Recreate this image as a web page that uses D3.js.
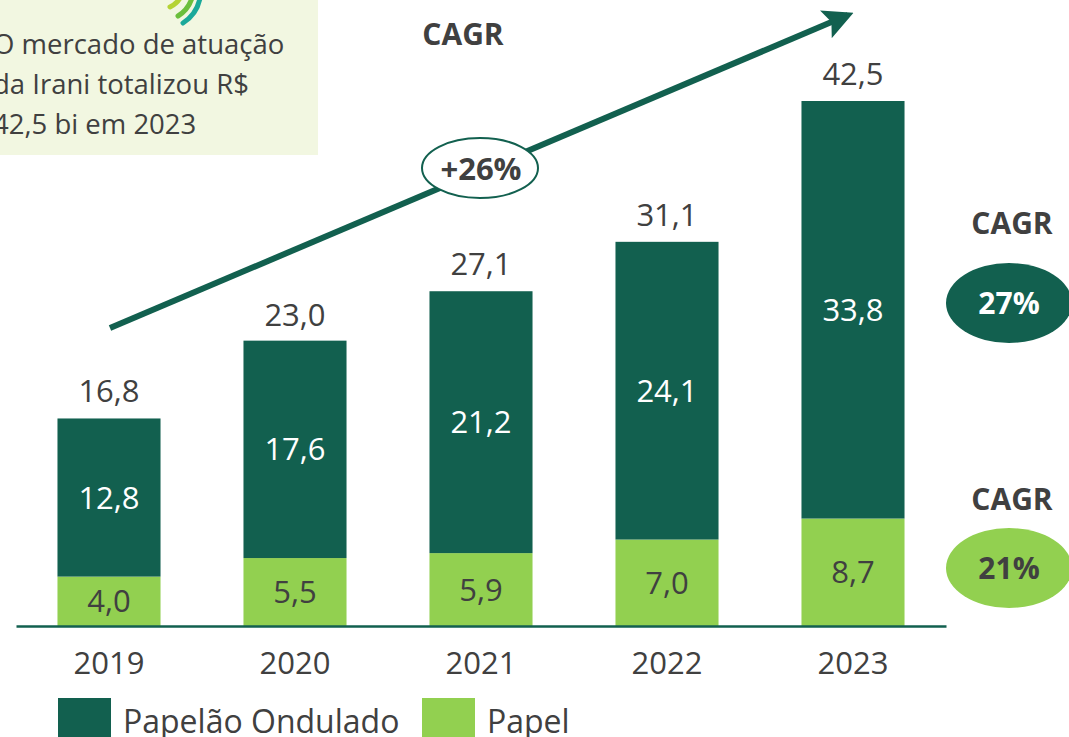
<!DOCTYPE html>
<html>
<head>
<meta charset="utf-8">
<script src="https://cdn.jsdelivr.net/npm/d3@7"></script>
<style>
  html, body { margin: 0; padding: 0; background: #fff; }
  svg { display: block; font-family: "Open Sans", "Noto Sans", sans-serif; }
</style>
</head>
<body>
<svg id="chart" width="1069" height="737"></svg>
<script>
// Data (R$ bi)
const years = ["2019", "2020", "2021", "2022", "2023"];
const papelao = [12.8, 17.6, 21.2, 24.1, 33.8];
const papel = [4.0, 5.5, 5.9, 7.0, 8.7];
const totals = [16.8, 23.0, 27.1, 31.1, 42.5];
const seriesNames = ["Papelão Ondulado", "Papel"];
const cagrTotal = "+26%";
const cagrPapelao = "27%";
const cagrPapel = "21%";
const noteLines = ["O mercado de atuação", "da Irani totalizou R$", "42,5 bi em 2023"];

const colors = {
  dark: "#12604f",
  light: "#92d050",
  text: "#404040",
  box: "#f2f7e1",
};

const fmt = (v) => v.toFixed(1).replace(".", ",");

const svg = d3.select("#chart");

const x = d3.scaleBand()
  .domain(years)
  .range([16, 946])
  .paddingInner(0.446)
  .paddingOuter(0.223);

const y = d3.scaleLinear()
  .domain([0, 42.5])
  .range([626, 101]);

// Note box in the top left corner
svg.append("rect")
  .attr("x", 0).attr("y", 0)
  .attr("width", 318).attr("height", 155)
  .attr("fill", colors.box);

// small logo strokes peeking in at the top
const logo = svg.append("g").attr("fill", "none").attr("stroke-linecap", "round").attr("stroke-width", 5);
logo.append("path").attr("d", "M170,7 Q178,3 181,-4").attr("stroke", "#b5d334");
logo.append("path").attr("d", "M178,16 Q188,10 192,-2").attr("stroke", "#6bbf3c");
logo.append("path").attr("d", "M183,23 Q197,14 200,-2").attr("stroke", "#1aa99a");

svg.append("g")
  .selectAll("text")
  .data(noteLines)
  .join("text")
  .attr("x", -7)
  .attr("y", (d, i) => 54 + i * 40)
  .attr("fill", colors.text)
  .attr("font-size", 27.5)
  .text((d) => d);

// Stacked bars
const stacked = years.map((yr, i) => ({ year: yr, papel: papel[i], papelao: papelao[i], total: totals[i] }));

const bars = svg.append("g");

bars.selectAll("rect.papel")
  .data(stacked)
  .join("rect")
  .attr("class", "papel")
  .attr("x", (d) => x(d.year))
  .attr("width", x.bandwidth())
  .attr("y", (d) => y(d.papel))
  .attr("height", (d) => y(0) - y(d.papel))
  .attr("fill", colors.light);

bars.selectAll("rect.papelao")
  .data(stacked)
  .join("rect")
  .attr("class", "papelao")
  .attr("x", (d) => x(d.year))
  .attr("width", x.bandwidth())
  .attr("y", (d) => y(d.papel + d.papelao))
  .attr("height", (d) => y(d.papel) - y(d.papel + d.papelao))
  .attr("fill", colors.dark);

// Value labels
const labels = svg.append("g").attr("text-anchor", "middle").attr("font-size", 31);

labels.selectAll("text.papel")
  .data(stacked)
  .join("text")
  .attr("class", "papel")
  .attr("x", (d) => x(d.year) + x.bandwidth() / 2)
  .attr("y", (d) => (y(0) + y(d.papel)) / 2 + 11)
  .attr("fill", colors.text)
  .text((d) => fmt(d.papel));

labels.selectAll("text.papelao")
  .data(stacked)
  .join("text")
  .attr("class", "papelao")
  .attr("x", (d) => x(d.year) + x.bandwidth() / 2)
  .attr("y", (d) => (y(d.papel) + y(d.papel + d.papelao)) / 2 + 11)
  .attr("fill", "#fff")
  .text((d) => fmt(d.papelao));

labels.selectAll("text.total")
  .data(stacked)
  .join("text")
  .attr("class", "total")
  .attr("x", (d) => x(d.year) + x.bandwidth() / 2)
  .attr("y", (d) => y(d.total) - 16)
  .attr("fill", colors.text)
  .text((d) => fmt(d.total));

// Baseline and year labels
const xAxis = svg.append("g")
  .attr("transform", `translate(0,${y(0)})`)
  .call(d3.axisBottom(x).tickSize(0).tickPadding(26));
xAxis.select(".domain").attr("stroke", colors.dark).attr("stroke-width", 2.5);
xAxis.selectAll("text")
  .attr("font-family", "Open Sans, sans-serif")
  .attr("font-size", 31)
  .attr("fill", colors.text);

// CAGR arrow over the totals
svg.append("defs").append("marker")
  .attr("id", "head")
  .attr("viewBox", "0 0 10 10")
  .attr("refX", 8).attr("refY", 5)
  .attr("markerWidth", 5).attr("markerHeight", 5)
  .attr("orient", "auto")
  .append("path")
  .attr("d", "M0,0 L10,5 L0,10 L2,5 Z")
  .attr("fill", colors.dark);

svg.append("line")
  .attr("x1", 110).attr("y1", 328)
  .attr("x2", 848).attr("y2", 15)
  .attr("stroke", colors.dark)
  .attr("stroke-width", 6)
  .attr("marker-end", "url(#head)");

svg.append("text")
  .attr("x", 463).attr("y", 45)
  .attr("text-anchor", "middle")
  .attr("font-size", 30).attr("font-weight", 700)
  .attr("fill", colors.text)
  .text("CAGR");

svg.append("ellipse")
  .attr("cx", 480).attr("cy", 168)
  .attr("rx", 58).attr("ry", 30)
  .attr("fill", "#fff")
  .attr("stroke", colors.dark).attr("stroke-width", 2);

svg.append("text")
  .attr("x", 481).attr("y", 180)
  .attr("text-anchor", "middle")
  .attr("font-size", 31).attr("font-weight", 700)
  .attr("fill", colors.text)
  .text(cagrTotal);

// CAGR by series on the right
const sideCagr = [
  { title: 234, cy: 303, fill: colors.dark, color: "#fff", value: cagrPapelao },
  { title: 510, cy: 568, fill: colors.light, color: colors.text, value: cagrPapel },
];

const side = svg.append("g").selectAll("g").data(sideCagr).join("g");
side.append("text")
  .attr("x", 1012).attr("y", (d) => d.title)
  .attr("text-anchor", "middle")
  .attr("font-size", 30).attr("font-weight", 700)
  .attr("fill", colors.text)
  .text("CAGR");
side.append("ellipse")
  .attr("cx", 1009).attr("cy", (d) => d.cy)
  .attr("rx", 63).attr("ry", 40)
  .attr("fill", (d) => d.fill);
side.append("text")
  .attr("x", 1009).attr("y", (d) => d.cy + 11)
  .attr("text-anchor", "middle")
  .attr("font-size", 30).attr("font-weight", 700)
  .attr("fill", (d) => d.color)
  .text((d) => d.value);

// Legend
const legendX = [58, 422];
const legend = svg.append("g").selectAll("g")
  .data(seriesNames)
  .join("g")
  .attr("transform", (d, i) => `translate(${legendX[i]},698)`);
legend.append("rect")
  .attr("width", 53).attr("height", 40)
  .attr("fill", (d, i) => (i === 0 ? colors.dark : colors.light));
legend.append("text")
  .attr("x", 65).attr("y", 35)
  .attr("font-size", 32)
  .attr("fill", colors.text)
  .text((d) => d);
</script>
</body>
</html>
